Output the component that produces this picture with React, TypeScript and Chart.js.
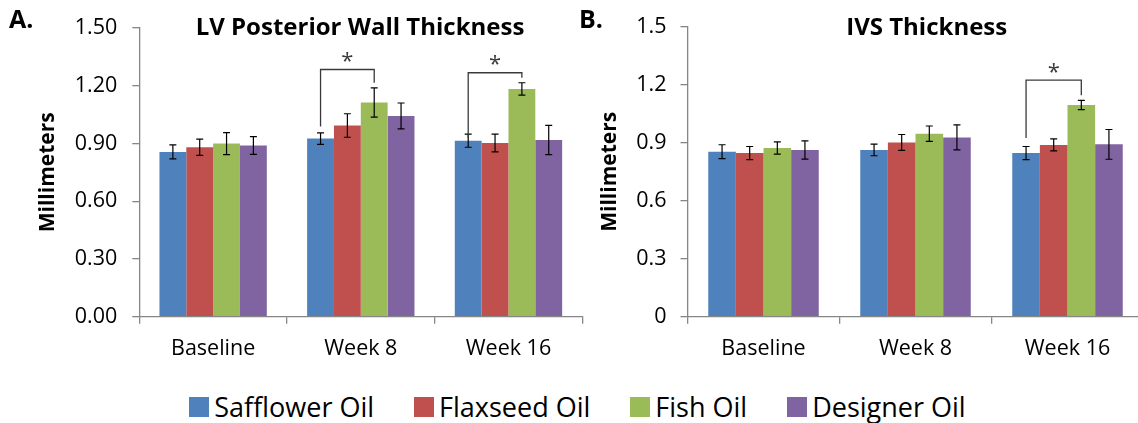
import React, { useEffect, useRef } from 'react';
import { Chart, registerables } from 'chart.js';

Chart.register(...registerables);

const FONT = "'Open Sans', 'DejaVu Sans', sans-serif";

// ---------- data ----------
const categories = ['Baseline', 'Week 8', 'Week 16'];
const seriesNames = ['Safflower Oil', 'Flaxseed Oil', 'Fish Oil', 'Designer Oil'];
const seriesColors = ['#4F81BD', '#C0504D', '#9BBB59', '#8064A2'];

// Panel A: LV Posterior Wall Thickness (mm)
const lvSafflower = [0.856, 0.925, 0.914];
const lvFlaxseed = [0.880, 0.993, 0.902];
const lvFish = [0.899, 1.113, 1.183];
const lvDesigner = [0.889, 1.043, 0.918];
const lvSafflowerErr = [0.036, 0.030, 0.034];
const lvFlaxseedErr = [0.042, 0.061, 0.046];
const lvFishErr = [0.057, 0.076, 0.032];
const lvDesignerErr = [0.046, 0.067, 0.076];

// Panel B: IVS Thickness (mm)
const ivsSafflower = [0.854, 0.863, 0.847];
const ivsFlaxseed = [0.847, 0.902, 0.889];
const ivsFish = [0.873, 0.947, 1.096];
const ivsDesigner = [0.863, 0.928, 0.892];
const ivsSafflowerErr = [0.036, 0.030, 0.034];
const ivsFlaxseedErr = [0.034, 0.041, 0.031];
const ivsFishErr = [0.032, 0.040, 0.024];
const ivsDesignerErr = [0.047, 0.065, 0.077];

// significance brackets: category, from series, to series, bracket top, left end, right end, star (mm)
const lvBrackets = [
  { cat: 1, from: 0, to: 2, top: 1.284, leftEnd: 0.988, rightEnd: 1.215, star: 1.349 },
  { cat: 2, from: 0, to: 2, top: 1.267, leftEnd: 0.928, rightEnd: 1.241, star: 1.333 },
];
const ivsBrackets = [
  { cat: 2, from: 0, to: 2, top: 1.225, leftEnd: 0.925, rightEnd: 1.146, star: 1.289 },
];

const yMin = 0;
const yMax = 1.5;
const yStep = 0.3;

type Bracket = { cat: number; from: number; to: number; top: number; leftEnd: number; rightEnd: number; star: number };

type PanelProps = {
  values: number[][];
  errors: number[][];
  brackets: Bracket[];
  title: string;
  letter: string;
  decimals: number;
  left: number;
  width: number;
  padLeft: number;
  padRight: number;
  yAxisWidth: number;
  yTickPadding: number;
  titleShift: number;
  letterX: number;
};

function makeAnnotPlugin(p: PanelProps) {
  return {
    id: 'annot' + p.letter,
    afterDatasetsDraw(chart: any) {
      const ctx = chart.ctx;
      const ys = chart.scales.y;
      ctx.save();
      // error bars
      ctx.strokeStyle = '#000';
      ctx.lineWidth = 1.2;
      chart.data.datasets.forEach((ds: any, i: number) => {
        const meta = chart.getDatasetMeta(i);
        meta.data.forEach((el: any, j: number) => {
          const v = ds.data[j];
          const e = p.errors[i][j];
          const x = el.x;
          const y1 = ys.getPixelForValue(v + e);
          const y2 = ys.getPixelForValue(v - e);
          ctx.beginPath();
          ctx.moveTo(x, y1);
          ctx.lineTo(x, y2);
          ctx.moveTo(x - 3.5, y1);
          ctx.lineTo(x + 3.5, y1);
          ctx.moveTo(x - 3.5, y2);
          ctx.lineTo(x + 3.5, y2);
          ctx.stroke();
        });
      });
      // brackets and stars
      ctx.strokeStyle = '#3a3a3a';
      ctx.fillStyle = '#3a3a3a';
      ctx.lineWidth = 1.3;
      p.brackets.forEach((b) => {
        const x1 = chart.getDatasetMeta(b.from).data[b.cat].x;
        const x2 = chart.getDatasetMeta(b.to).data[b.cat].x;
        const yt = ys.getPixelForValue(b.top);
        ctx.beginPath();
        ctx.moveTo(x1, ys.getPixelForValue(b.leftEnd));
        ctx.lineTo(x1, yt);
        ctx.lineTo(x2, yt);
        ctx.lineTo(x2, ys.getPixelForValue(b.rightEnd));
        ctx.stroke();
        ctx.font = `22px ${FONT}`;
        ctx.textAlign = 'center';
        ctx.textBaseline = 'alphabetic';
        const m = ctx.measureText('*');
        const yc = ys.getPixelForValue(b.star);
        ctx.fillText('*', (x1 + x2) / 2, yc + (m.actualBoundingBoxAscent - m.actualBoundingBoxDescent) / 2);
      });
      ctx.restore();
    },
    afterDraw(chart: any) {
      const ctx = chart.ctx;
      const ca = chart.chartArea;
      ctx.save();
      ctx.fillStyle = '#000';
      ctx.textBaseline = 'alphabetic';
      ctx.font = `bold 24px ${FONT}`;
      ctx.textAlign = 'center';
      ctx.fillText(p.title, (ca.left + ca.right) / 2 + p.titleShift, 35);
      ctx.font = `bold 25px ${FONT}`;
      ctx.textAlign = 'left';
      ctx.fillText(p.letter, p.letterX, 28);
      ctx.restore();
    },
  };
}

function Panel(p: PanelProps) {
  const ref = useRef<HTMLCanvasElement | null>(null);
  useEffect(() => {
    if (!ref.current) return;
    const fmt = (v: any) =>
      p.decimals > 0 ? Number(v).toFixed(p.decimals) : String(parseFloat(Number(v).toFixed(1)));
    const chart = new Chart(ref.current, {
      type: 'bar',
      data: {
        labels: categories,
        datasets: p.values.map((vals, i) => ({
          label: seriesNames[i],
          data: vals,
          backgroundColor: seriesColors[i],
          borderWidth: 0,
          categoryPercentage: 0.727,
          barPercentage: 1.0,
        })),
      },
      options: {
        responsive: false,
        animation: false,
        layout: { padding: { left: p.padLeft, right: p.padRight, top: 26, bottom: 0 } },
        plugins: { legend: { display: false }, tooltip: { enabled: false }, title: { display: false } },
        scales: {
          x: {
            ticks: { font: { family: FONT, size: 21.5 }, color: '#000', padding: 12 },
            grid: {
              display: true,
              drawOnChartArea: false,
              drawTicks: true,
              tickLength: 7,
              color: '#868686',
              lineWidth: 1.3,
              offset: true,
            },
            border: { display: true, color: '#868686', width: 1.3 },
            afterFit: (s: any) => {
              s.height = 53.3;
            },
          },
          y: {
            min: yMin,
            max: yMax,
            ticks: {
              stepSize: yStep,
              callback: fmt,
              font: { family: FONT, size: 21.5 },
              color: '#000',
              padding: p.yTickPadding,
            },
            grid: {
              drawOnChartArea: false,
              drawTicks: true,
              tickLength: 7,
              color: '#868686',
              lineWidth: 1.3,
            },
            border: { display: true, color: '#868686', width: 1.3 },
            title: {
              display: true,
              text: 'Millimeters',
              font: { family: FONT, size: 21, weight: 'bold' },
              color: '#000',
              padding: 0,
            },
            afterFit: (s: any) => {
              s.width = p.yAxisWidth;
            },
          },
        },
      } as any,
      plugins: [makeAnnotPlugin(p)],
    });
    return () => chart.destroy();
  }, []);
  return (
    <canvas
      ref={ref}
      width={p.width}
      height={370}
      style={{ position: 'absolute', left: p.left, top: 0, width: p.width, height: 370 }}
    />
  );
}

export default function App() {
  return (
    <div
      style={{
        position: 'fixed',
        left: 0,
        top: 0,
        width: 1138,
        height: 423,
        overflow: 'hidden',
        background: '#fff',
      }}
    >
      <Panel
        values={[lvSafflower, lvFlaxseed, lvFish, lvDesigner]}
        errors={[lvSafflowerErr, lvFlaxseedErr, lvFishErr, lvDesignerErr]}
        brackets={lvBrackets}
        title="LV Posterior Wall Thickness"
        letter="A."
        decimals={2}
        left={0}
        width={590}
        padLeft={35.9}
        padRight={7.7}
        yAxisWidth={103.4}
        yTickPadding={15}
        titleShift={-0.8}
        letterX={9}
      />
      <Panel
        values={[ivsSafflower, ivsFlaxseed, ivsFish, ivsDesigner]}
        errors={[ivsSafflowerErr, ivsFlaxseedErr, ivsFishErr, ivsDesignerErr]}
        brackets={ivsBrackets}
        title="IVS Thickness"
        letter="B."
        decimals={0}
        left={560}
        width={600}
        padLeft={37.4}
        padRight={16.5}
        yAxisWidth={90.1}
        yTickPadding={14}
        titleShift={11.2}
        letterX={19}
      />
      <div
        style={{
          position: 'absolute',
          left: 0,
          top: 391.7,
          width: 1138,
          height: 30,
          boxSizing: 'border-box',
          paddingLeft: 17,
          display: 'flex',
          alignItems: 'center',
          justifyContent: 'center',
          gap: 40,
          fontFamily: FONT,
          fontSize: 27,
          lineHeight: '30px',
          color: '#000',
          whiteSpace: 'nowrap',
        }}
      >
        {seriesNames.map((name, i) => (
          <div key={name} style={{ display: 'flex', alignItems: 'center' }}>
            <span
              style={{ display: 'inline-block', width: 20, height: 20, background: seriesColors[i], marginRight: 5 }}
            />
            <span>{name}</span>
          </div>
        ))}
      </div>
    </div>
  );
}
